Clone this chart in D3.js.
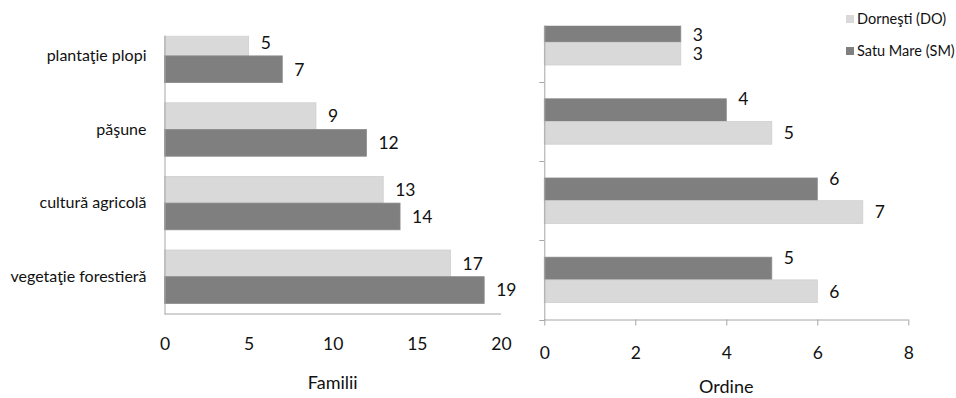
<!DOCTYPE html>
<html>
<head>
<meta charset="utf-8">
<script src="https://cdn.jsdelivr.net/npm/d3@7/dist/d3.min.js"></script>
<style>
  html, body { margin: 0; padding: 0; background: #fff; }
  svg { display: block; font-family: Lato, "Open Sans", sans-serif; }
</style>
</head>
<body>
<svg id="chart" width="956" height="398"></svg>
<script>
// Habitat categories, listed top to bottom
const categories = ["plantaţie plopi", "păşune", "cultură agricolă", "vegetaţie forestieră"];
const seriesNames = ["Dorneşti (DO)", "Satu Mare (SM)"];

// Number of families per habitat
const familiiDO = [5, 9, 13, 17];
const familiiSM = [7, 12, 14, 19];

// Number of orders per habitat
const ordineDO = [3, 5, 7, 6];
const ordineSM = [3, 4, 6, 5];

const familiiTicks = [0, 5, 10, 15, 20];
const ordineTicks = [0, 2, 4, 6, 8];

const colors = { "Dorneşti (DO)": "#d9d9d9", "Satu Mare (SM)": "#7f7f7f" };
const strokes = { "Dorneşti (DO)": "#cfcfcf", "Satu Mare (SM)": "#8a8a8a" };
const axisColor = "#a6a6a6";
const textColor = "#111";

const svg = d3.select("#chart");
const defs = svg.append("defs");

function panel(cfg) {
  const g = svg.append("g");
  const x = d3.scaleLinear().domain(cfg.xDomain).range([cfg.left, cfg.right]);
  const y = d3.scaleBand().domain(categories).range([cfg.top, cfg.bottom]).paddingInner(0).paddingOuter(0);
  const yIn = d3.scaleBand().domain(cfg.order).range([0, y.bandwidth()]).paddingInner(0).paddingOuter(cfg.outerPad);

  const clipId = "clip-" + cfg.id;
  defs.append("clipPath").attr("id", clipId)
    .append("rect")
    .attr("x", cfg.left - 10).attr("y", cfg.clipTop)
    .attr("width", cfg.right - cfg.left + 20).attr("height", cfg.bottom - cfg.clipTop + 10);

  const rows = categories.map((c, i) => ({ cat: c, values: cfg.order.map(s => ({ s, v: cfg.data[s][i] })) }));

  const plot = g.append("g").attr("clip-path", `url(#${clipId})`);
  const grp = plot.selectAll("g.cat").data(rows).join("g")
    .attr("transform", d => `translate(0,${y(d.cat)})`);
  grp.selectAll("rect").data(d => d.values).join("rect")
    .attr("x", x(0))
    .attr("y", d => yIn(d.s))
    .attr("width", d => x(d.v) - x(0))
    .attr("height", yIn.bandwidth())
    .attr("fill", d => colors[d.s])
    .attr("stroke", d => strokes[d.s])
    .attr("stroke-width", 0.8);

  // value labels
  rows.forEach(r => {
    r.values.forEach(d => {
      let cy = y(r.cat) + yIn(d.s) + yIn.bandwidth() / 2;
      if (cfg.labelShift && cfg.labelShift[d.s]) {
        cy = Math.max(cfg.clipTop + 9, cy + cfg.labelShift[d.s]);
      }
      g.append("text")
        .attr("x", x(d.v) + 12)
        .attr("y", cy)
        .attr("dy", "0.36em")
        .attr("font-size", 17.5)
        .attr("fill", textColor)
        .text(d.v);
    });
  });

  // value axis
  const xAxis = d3.axisBottom(x).tickValues(cfg.ticks).tickSize(cfg.xTickSize).tickPadding(0).tickFormat(d3.format("d"));
  const xa = g.append("g").attr("transform", `translate(0,${cfg.bottom})`).call(xAxis);
  xa.select(".domain").attr("stroke", axisColor).attr("d", `M${cfg.left},0.5H${cfg.right}`);
  xa.selectAll(".tick line").attr("stroke", axisColor);
  xa.selectAll(".tick text")
    .attr("y", cfg.tickLabelY - cfg.bottom)
    .attr("dy", "0.36em")
    .attr("font-size", 17.5)
    .attr("font-family", "Lato, sans-serif")
    .attr("fill", textColor);

  // category axis line
  g.append("line")
    .attr("x1", x(0) + 0.5).attr("x2", x(0) + 0.5)
    .attr("y1", cfg.clipTop).attr("y2", cfg.bottom + 1)
    .attr("stroke", axisColor);

  if (cfg.catTicks) {
    const bounds = categories.map(c => y(c)).concat([cfg.bottom]).filter(v => v >= cfg.clipTop);
    g.selectAll("line.ctick").data(bounds).join("line")
      .attr("class", "ctick")
      .attr("x1", x(0) - 5).attr("x2", x(0))
      .attr("y1", d => Math.round(d) + 0.5).attr("y2", d => Math.round(d) + 0.5)
      .attr("stroke", axisColor);
  }

  if (cfg.showCategories) {
    g.selectAll("text.cat").data(categories).join("text")
      .attr("class", "cat")
      .attr("x", cfg.left - 18)
      .attr("y", d => y(d) + y.bandwidth() / 2)
      .attr("dy", "0.32em")
      .attr("text-anchor", "end")
      .attr("font-size", 16)
      .attr("fill", textColor)
      .text(d => d);
  }

  g.append("text")
    .attr("x", (cfg.left + cfg.right) / 2)
    .attr("y", cfg.titleY)
    .attr("text-anchor", "middle")
    .attr("font-size", 18)
    .attr("fill", textColor)
    .text(cfg.title);
}

panel({
  id: "familii",
  data: { "Dorneşti (DO)": familiiDO, "Satu Mare (SM)": familiiSM },
  order: ["Dorneşti (DO)", "Satu Mare (SM)"],
  xDomain: [0, 20], ticks: familiiTicks,
  left: 164.5, right: 501, top: 19.1, bottom: 313.5, clipTop: 35.7,
  outerPad: 0.378, xTickSize: 0, tickLabelY: 343.7,
  title: "Familii", titleY: 388.5, showCategories: true, catTicks: false
});

panel({
  id: "ordine",
  data: { "Dorneşti (DO)": ordineDO, "Satu Mare (SM)": ordineSM },
  order: ["Satu Mare (SM)", "Dorneşti (DO)"],
  xDomain: [0, 8], ticks: ordineTicks,
  left: 544.3, right: 908.3, top: 2.7, bottom: 319.5, clipTop: 25.7,
  outerPad: 0.744, xTickSize: 6, tickLabelY: 352.7,
  labelShift: { "Satu Mare (SM)": -11 },
  title: "Ordine", titleY: 392.5, showCategories: false, catTicks: true
});

// legend
const legend = svg.append("g").attr("transform", "translate(846,0)");
const legendY = [19, 51];
seriesNames.forEach((s, i) => {
  legend.append("rect")
    .attr("x", 0).attr("y", legendY[i] - 4)
    .attr("width", 8).attr("height", 8)
    .attr("fill", colors[s]);
  legend.append("text")
    .attr("x", 11).attr("y", legendY[i])
    .attr("dy", "0.35em")
    .attr("font-size", 14.5)
    .attr("fill", textColor)
    .text(s);
});
</script>
</body>
</html>
